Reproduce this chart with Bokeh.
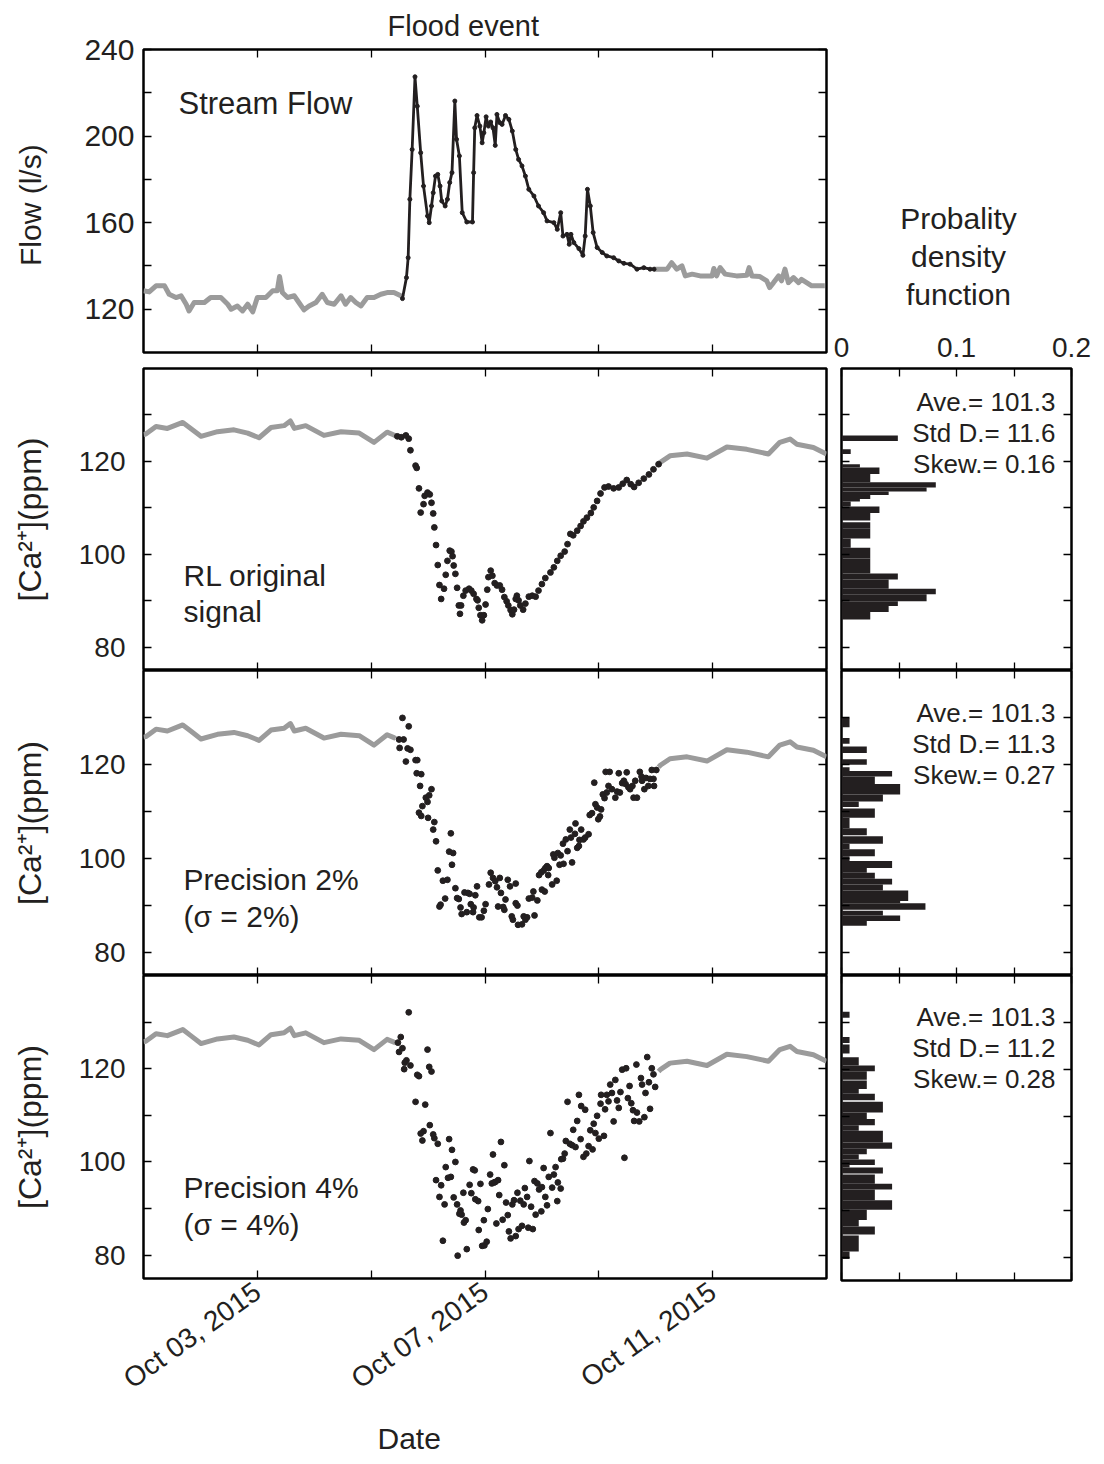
import numpy as np
import pandas as pd
from bokeh.plotting import figure
from bokeh.models import (Range1d, LinearAxis, DatetimeAxis, FixedTicker,
                          DatetimeTickFormatter, Label, Title)
from bokeh.layouts import row, column
from bokeh.embed import file_html
from bokeh.resources import INLINE

FONT = "Liberation Sans"
INK = "#231f20"
GRAY = "#9b9b9b"

# ---------------- data (day of October 2015, values) ----------------
flow_pre_day = [1.00,1.10,1.22,1.37,1.45,1.57,1.66,1.75,1.80,1.89,2.07,2.18,2.36,2.48,2.54,2.65,2.74,2.83,2.92,3.00,
                3.15,3.27,3.35,3.39,3.44,3.53,3.65,3.73,3.82,3.91,4.03,4.14,4.23,4.35,4.47,4.55,4.64,4.73,4.82,4.93,
                5.05,5.17,5.28,5.40,5.52,5.56]
flow_pre_val = [128.5,128.0,130.8,130.8,126.9,125.4,126.2,122.3,119.2,123.1,123.1,125.4,125.4,122.3,120.0,121.5,119.2,122.3,118.8,125.4,
                125.4,128.5,128.5,135.1,127.7,125.4,126.2,123.1,119.7,121.5,123.1,126.9,123.1,122.3,126.2,122.3,125.4,123.1,121.5,125.4,
                125.4,126.9,127.7,127.7,126.2,125.4]

flow_event_day = [5.55,5.62,5.65,5.68,5.72,5.77,5.81,5.87,5.92,5.99,6.02,6.06,6.09,6.13,6.17,6.21,6.24,6.30,6.34,6.38,
                  6.42,6.47,6.50,6.55,6.60,6.68,6.78,6.80,6.82,6.86,6.91,6.95,6.98,7.02,7.06,7.10,7.14,7.18,7.21,7.26,
                  7.30,7.36,7.42,7.48,7.54,7.59,7.65,7.71,7.77,7.86,7.94,8.03,8.09,8.21,8.27,8.33,8.37,8.44,8.48,8.51,
                  8.56,8.65,8.72,8.76,8.80,8.85,8.90,8.97,9.06,9.14,9.26,9.35,9.44,9.55,9.67,9.79,9.90,9.97]
flow_event_val = [124.9,134.6,143.8,170.8,193.8,227.4,213.8,192.3,176.9,163.1,160.0,167.7,173.8,181.5,182.3,176.9,170.0,167.7,170.8,178.5,
                  183.1,216.2,198.5,190.8,164.6,160.3,160.3,183.1,203.8,209.5,204.6,196.9,201.5,208.9,204.6,206.5,203.8,195.7,210.0,206.2,
                  205.4,209.5,207.7,202.3,193.8,189.2,186.2,181.5,175.4,172.3,167.7,164.6,160.8,160.0,156.9,164.6,153.8,154.6,150.0,154.6,
                  150.8,148.0,144.9,153.8,175.4,167.7,155.4,148.5,146.2,144.6,143.8,142.3,141.2,140.8,138.5,139.2,138.5,138.5]

flow_post_day = [9.97,10.05,10.20,10.28,10.37,10.46,10.52,10.64,10.78,10.99,11.02,11.07,11.13,11.22,11.42,11.60,11.64,11.69,11.83,11.95,
                 12.00,12.07,12.16,12.21,12.27,12.33,12.42,12.51,12.56,12.65,12.74,12.97]
flow_post_val = [138.5,138.5,138.5,141.5,138.5,140.0,135.4,136.2,135.4,135.4,138.8,135.4,139.2,136.2,135.4,135.7,139.2,135.4,135.1,133.1,
                 130.0,132.3,135.4,133.1,138.5,132.3,134.6,132.3,133.8,132.3,130.8,130.8]

ca_pre_day = [1.00,1.04,1.22,1.42,1.69,1.83,2.01,2.30,2.59,2.83,3.03,3.24,3.47,3.58,3.65,3.85,4.17,4.47,4.79,5.05,5.28,5.40,5.43]
ca_pre_val = [125.8,125.9,127.5,127.1,128.4,127.1,125.4,126.4,126.8,126.1,125.1,127.3,127.7,128.7,127.1,127.7,125.6,126.4,126.1,124.1,126.3,125.7,125.5]

ca_post_day = [10.05,10.08,10.25,10.55,10.90,11.25,11.60,11.98,12.18,12.36,12.48,12.77,13.00]
ca_post_val = [119.4,119.8,121.2,121.6,120.7,123.1,122.6,121.6,124.1,124.8,123.7,123.0,121.6]

rl_day = [5.46,5.53,5.61,5.66,5.69,5.78,5.80,5.84,5.87,5.92,5.94,5.99,6.03,6.06,6.09,6.11,6.14,6.17,6.20,6.23,
          6.28,6.31,6.34,6.38,6.41,6.43,6.45,6.48,6.51,6.54,6.56,6.58,6.62,6.66,6.72,6.76,6.80,6.85,6.87,6.89,
          6.92,6.95,6.98,7.01,7.04,7.06,7.10,7.13,7.17,7.21,7.26,7.30,7.34,7.38,7.41,7.45,7.48,7.51,7.54,7.56,
          7.59,7.62,7.67,7.71,7.77,7.83,7.89,7.94,8.00,8.06,8.15,8.21,8.27,8.33,8.40,8.45,8.50,8.55,8.62,8.68,
          8.73,8.79,8.86,8.91,8.97,9.03,9.10,9.17,9.26,9.35,9.42,9.49,9.56,9.62,9.70,9.79,9.88,9.96,10.05]
rl_val = [125.4,125.2,125.6,124.9,122.4,119.1,118.6,114.2,109.0,110.8,112.6,113.3,112.9,111.1,108.8,105.8,102.0,97.7,93.4,90.4,
          92.6,95.6,98.6,100.8,100.6,99.6,97.6,95.8,92.8,89.0,87.2,89.0,91.1,92.2,92.6,92.2,91.5,90.4,90.1,88.5,
          86.9,85.8,86.9,89.2,92.4,95.1,96.5,95.4,93.8,93.3,93.3,92.4,90.8,89.9,89.0,88.0,87.1,88.1,90.4,91.1,
          90.1,89.0,88.1,89.4,90.9,91.1,90.9,92.2,93.6,94.9,96.1,97.2,98.6,99.7,100.6,102.2,104.4,104.1,105.1,106.1,
          107.1,107.9,108.9,110.1,111.5,113.1,114.4,114.6,114.2,114.4,115.2,116.0,115.1,114.5,115.4,116.3,117.2,118.3,119.4]

p2_day = [5.49,5.57,5.55,5.66,5.50,5.61,5.64,5.69,5.78,5.81,5.80,5.88,5.86,5.96,6.02,6.06,5.99,5.90,5.84,5.88,
          6.00,6.11,6.09,6.14,6.40,6.37,6.44,6.42,6.17,6.26,6.34,6.48,6.51,6.54,6.64,6.70,6.73,6.86,6.83,6.22,
          6.20,6.30,6.57,6.59,6.68,6.75,6.79,6.80,6.90,6.94,6.98,7.01,7.07,7.10,7.14,7.18,7.21,7.26,7.28,7.36,
          7.40,7.44,7.54,7.23,7.32,7.34,7.47,7.49,7.54,7.57,7.58,7.65,7.68,7.71,7.74,7.77,7.83,7.87,7.92,7.85,
          7.95,7.99,8.03,8.06,8.09,8.11,8.12,8.00,8.05,8.18,8.26,8.20,8.22,8.28,8.33,8.31,8.38,8.37,8.42,8.45,
          8.49,8.53,8.51,8.58,8.59,8.62,8.65,8.66,8.69,8.73,8.76,8.82,8.84,8.88,8.94,8.97,8.99,9.02,9.04,8.92,
          9.07,9.10,9.14,9.12,9.19,9.17,9.23,9.29,9.32,9.35,9.37,9.41,9.44,9.49,9.47,9.52,9.55,9.59,9.61,9.64,
          9.67,9.72,9.75,9.76,9.80,9.83,9.87,9.90,9.93,9.96,9.97,10.01]
p2_val = [125.3,125.3,129.9,128.1,123.5,120.6,123.4,123.1,120.9,120.9,118.1,117.9,115.4,112.9,113.4,114.7,112.0,111.1,109.7,109.0,
          108.6,107.7,106.1,103.6,105.3,101.4,101.1,98.6,97.4,95.2,95.4,93.6,91.5,91.3,92.7,92.6,92.4,94.0,92.1,90.1,
          89.7,91.4,89.5,88.1,88.5,90.2,88.5,89.5,87.4,87.4,88.8,90.2,94.4,96.9,95.8,95.1,93.8,95.8,92.6,91.2,
          95.4,94.0,94.6,89.7,89.6,89.0,87.6,86.9,90.4,89.9,85.8,85.9,87.6,86.9,87.4,91.4,91.6,87.8,91.0,92.9,
          96.4,97.0,97.4,97.9,98.3,96.4,97.9,93.3,92.9,94.4,95.2,100.8,100.1,101.1,100.6,98.6,98.8,103.1,104.0,101.5,
          106.1,99.1,104.4,105.2,107.4,102.2,102.6,103.9,106.1,104.0,104.4,105.1,109.2,109.6,111.5,110.8,108.3,108.9,110.4,116.1,
          113.6,112.8,114.0,118.4,118.4,115.4,114.7,112.9,114.2,118.1,114.0,116.0,116.5,118.3,115.8,115.1,114.7,115.4,112.9,116.5,
          112.9,118.4,117.4,116.5,114.7,117.1,115.4,116.9,118.8,116.9,115.4,118.8]

p4_day = [5.66,5.52,5.47,5.55,5.49,5.62,5.59,5.69,5.58,5.81,5.84,5.99,6.02,6.06,5.78,5.95,6.03,5.92,5.87,5.90,
          6.09,6.11,6.17,6.37,6.42,6.48,6.31,6.35,6.40,6.14,6.23,6.20,6.29,6.45,6.51,6.57,6.59,6.55,6.66,6.63,
          6.62,6.73,6.76,6.79,6.82,6.83,6.88,6.92,6.89,6.98,6.95,6.99,7.03,7.05,7.09,7.12,7.16,7.18,7.23,7.14,
          7.28,7.34,7.25,7.20,7.31,7.40,7.37,7.42,7.45,7.54,7.59,7.65,7.76,7.84,7.48,7.51,7.57,7.62,7.68,7.70,
          7.74,7.81,7.89,7.99,7.78,7.87,7.92,7.95,8.00,8.03,8.06,8.09,8.12,8.15,8.18,8.21,8.24,8.27,8.28,8.33,
          8.34,8.37,8.40,8.42,8.45,8.49,8.53,8.55,8.59,8.62,8.65,8.68,8.69,8.73,8.76,8.78,8.82,8.85,8.89,8.91,
          8.94,8.97,9.00,9.03,9.04,9.09,9.11,9.14,9.17,9.20,9.23,9.26,9.29,9.32,9.35,9.38,9.41,9.45,9.48,9.51,
          9.54,9.57,9.60,9.62,9.66,9.67,9.71,9.74,9.76,9.80,9.82,9.85,9.88,9.90,9.93,9.96,9.99,6.26,6.52,6.68]
p4_val = [132.1,126.8,125.6,124.4,123.6,121.8,121.3,120.7,119.9,118.7,118.4,124.1,120.4,119.4,112.9,112.3,107.9,106.6,106.1,104.6,
          105.9,105.1,103.9,104.9,102.6,100.0,98.9,96.6,96.8,96.1,95.0,92.5,90.9,92.4,90.9,89.6,88.7,88.9,87.5,87.0,
          93.4,95.1,93.3,98.4,98.2,92.0,91.6,95.3,85.4,87.5,82.0,82.1,82.9,89.9,97.3,95.4,95.6,95.7,96.1,101.6,
          104.3,99.3,92.9,86.8,87.6,88.6,91.3,85.1,83.6,84.1,85.6,86.3,85.9,85.6,90.9,91.8,93.4,91.7,90.9,94.4,
          92.5,90.4,88.7,89.4,100.2,95.9,95.4,94.1,94.6,98.7,92.5,90.7,96.8,106.2,94.5,97.3,98.9,91.6,95.6,94.3,
          100.6,100.7,101.8,104.5,112.9,103.9,103.6,106.9,103.2,108.8,114.4,104.9,112.0,101.1,111.2,101.8,103.4,106.8,102.7,108.2,
          106.2,109.9,105.0,112.5,114.4,105.6,111.3,114.4,113.0,116.6,114.8,108.7,117.6,113.2,111.6,115.0,119.8,100.9,120.1,113.7,
          116.3,112.6,111.1,108.8,120.9,110.6,108.7,118.0,116.6,109.6,114.8,122.5,117.1,111.4,120.1,118.8,116.1,83.1,79.9,81.3]

# histograms: bin bottom, bin top (ppm) and probability
h1_lo = [124.4,121.6,118.7,117.3,115.5,114.4,113.5,112.8,111.9,111.4,110.3,108.9,107.3,105.5,103.4,101.4,99.1,95.9,94.6,92.6,91.4,89.9,88.9,87.6,86.0]
h1_hi = [125.6,122.6,119.4,118.7,117.3,115.5,114.4,113.5,112.8,111.9,111.4,110.3,108.9,106.9,105.5,103.4,101.4,99.1,95.9,94.6,92.6,91.4,89.9,88.9,87.6]
h1_p = [0.049,0.008,0.016,0.033,0.025,0.082,0.074,0.041,0.025,0.016,0.008,0.033,0.025,0.025,0.025,0.008,0.025,0.025,0.049,0.041,0.082,0.074,0.049,0.041,0.025]

h2_lo = [127.9,124.4,122.4,119.9,118.6,117.4,115.8,113.6,112.1,110.9,108.6,106.4,104.9,103.1,101.9,100.4,99.4,97.9,96.9,95.6,94.4,93.1,90.9,90.4,89.0,87.8,86.6,85.6]
h2_hi = [129.9,125.6,123.8,121.1,119.4,118.6,117.4,115.8,113.6,112.1,110.6,108.6,106.4,104.7,103.1,101.9,100.4,99.4,97.9,96.9,95.6,94.4,93.1,90.9,90.4,88.8,87.8,86.6]
h2_p = [0.007,0.007,0.022,0.022,0.007,0.044,0.029,0.051,0.036,0.015,0.029,0.007,0.022,0.036,0.007,0.029,0.007,0.044,0.022,0.029,0.044,0.036,0.058,0.051,0.073,0.036,0.051,0.022]

h3_lo = [131.0,125.6,123.4,120.8,119.6,117.8,115.8,114.8,113.4,110.8,109.4,108.1,106.9,105.6,104.4,103.1,101.9,100.8,99.6,99.1,97.8,95.6,94.4,92.1,90.1,87.9,86.5,84.8,81.2,79.6]
h3_hi = [132.3,126.9,125.3,122.6,120.8,119.6,117.6,115.8,114.8,113.1,110.8,109.4,108.1,106.9,105.6,104.4,103.1,101.9,100.8,99.6,99.1,97.6,95.6,94.4,92.1,90.1,87.9,86.5,84.6,81.2]
h3_p = [0.007,0.007,0.007,0.015,0.029,0.022,0.022,0.015,0.029,0.036,0.022,0.029,0.015,0.036,0.036,0.044,0.022,0.015,0.029,0.007,0.036,0.029,0.044,0.029,0.044,0.022,0.015,0.029,0.015,0.007]

stats = [("101.3", "11.6", "0.16"), ("101.3", "11.3", "0.27"), ("101.3", "11.2", "0.28")]
panel_labels = [("RL original", "signal"), ("Precision 2%", "(\u03c3 = 2%)"), ("Precision 4%", "(\u03c3 = 4%)")]
pdf_title = ["Probality", "density", "function"]
date_ticks = [3, 7, 11]
date_minor = [5, 9]

# ---------------- helpers ----------------
BASE = pd.Timestamp("2015-09-30")


def to_time(days):
    return (BASE + pd.to_timedelta(np.asarray(days, dtype=float), unit="D")).to_numpy()


def ms(d):
    return (BASE + pd.Timedelta(days=d)).value / 1e6


def make_fig(w, h, xr, yr, bl, br, bt, bb):
    p = figure(width=w, height=h, x_range=xr, y_range=yr, x_axis_type=None, y_axis_type=None,
               toolbar_location=None, output_backend="svg",
               min_border_left=bl, min_border_right=br, min_border_top=bt, min_border_bottom=bb)
    p.outline_line_color = "black"
    p.outline_line_width = 2.5
    p.outline_line_alpha = 1.0
    p.border_fill_color = "white"
    p.background_fill_color = "white"
    return p


def blank_fig(w, h, bl, br):
    p = figure(width=w, height=h, x_range=Range1d(0, 1), y_range=Range1d(0, 1),
               x_axis_type=None, y_axis_type=None, toolbar_location=None, output_backend="svg",
               min_border_left=bl, min_border_right=br, min_border_top=0, min_border_bottom=0)
    p.outline_line_color = None
    p.border_fill_color = "white"
    p.background_fill_color = "white"
    return p


def add_axis(p, side, ticker, dt=False, show=False, size="28px", standoff=10, orient="horizontal",
             formatter=None, label=None, label_standoff=10, label_size="29px"):
    ax = DatetimeAxis(ticker=ticker) if dt else LinearAxis(ticker=ticker)
    if formatter is not None:
        ax.formatter = formatter
    ax.axis_line_color = None
    ax.major_tick_in = 8
    ax.major_tick_out = 0
    ax.minor_tick_in = 8
    ax.minor_tick_out = 0
    ax.major_tick_line_color = "black"
    ax.minor_tick_line_color = "black"
    ax.major_tick_line_width = 1.3
    ax.minor_tick_line_width = 1.3
    if show:
        ax.major_label_text_font = FONT
        ax.major_label_text_font_size = size
        ax.major_label_text_color = INK
        ax.major_label_standoff = standoff
        ax.major_label_orientation = orient
    else:
        ax.major_label_text_font_size = "0px"
        ax.major_label_text_color = None
        ax.major_label_standoff = 0
    if label is not None:
        ax.axis_label = label
        ax.axis_label_text_font = FONT
        ax.axis_label_text_font_size = label_size
        ax.axis_label_text_font_style = "normal"
        ax.axis_label_text_color = INK
        ax.axis_label_standoff = label_standoff
    p.add_layout(ax, side)
    return ax


def text(p, x, y, s, size="30px", align="left"):
    p.add_layout(Label(x=x, y=y, x_units="screen", y_units="screen", text=s, text_font=FONT,
                       text_font_size=size, text_color=INK, text_align=align,
                       text_baseline="middle"))


def title(p, s, side, align="center", offset=0, standoff=10, size="30px", valign="bottom"):
    p.add_layout(Title(text=s, align=align, offset=offset, standoff=standoff, text_font=FONT,
                       text_font_size=size, text_font_style="normal", text_color=INK,
                       vertical_align=valign), side)


# ---------------- ranges / tickers ----------------
x_range = Range1d(start=pd.Timestamp("2015-10-01"), end=pd.Timestamp("2015-10-13"))
ca_range = Range1d(75, 140)
flow_range = Range1d(100, 240)
hx_range = Range1d(0, 0.2)


def date_ticker():
    return FixedTicker(ticks=[ms(d) for d in date_ticks], minor_ticks=[ms(d) for d in date_minor])


def ca_ticker():
    return FixedTicker(ticks=[80, 100, 120], minor_ticks=[90, 110, 130])


def hx_ticker():
    return FixedTicker(ticks=[0, 0.1, 0.2], minor_ticks=[0.05, 0.15])


fmt = "%b %d, %Y"
date_fmt = DatetimeTickFormatter(microseconds=fmt, milliseconds=fmt, seconds=fmt, minsec=fmt, minutes=fmt,
                                 hourmin=fmt, hours=fmt, days=fmt, months=fmt, years=fmt)

# ---------------- flow panel ----------------
flow = make_fig(830, 360, x_range, flow_range, 143, 4, 49, 8)
add_axis(flow, "left", FixedTicker(ticks=[120, 160, 200, 240], minor_ticks=[140, 180, 220]),
         show=True, size="30px", standoff=9, label="Flow  (l/s)", label_standoff=34, label_size="30px")
add_axis(flow, "right", FixedTicker(ticks=[120, 160, 200, 240], minor_ticks=[140, 180, 220]))
add_axis(flow, "above", date_ticker(), dt=True)
add_axis(flow, "below", date_ticker(), dt=True)
title(flow, "Flood event", "above", align="left", offset=244, standoff=12, size="29px", valign="top")
flow.line(to_time(flow_pre_day), flow_pre_val, color=GRAY, line_width=5, line_join="round")
flow.line(to_time(flow_post_day), flow_post_val, color=GRAY, line_width=5, line_join="round")
flow.line(to_time(flow_event_day), flow_event_val, color=INK, line_width=2.8, line_join="round")
flow.scatter(to_time(flow_event_day), flow_event_val, size=4, color=INK)
text(flow, 35, 249, "Stream Flow", size="31px")

# ---------------- calcium panels ----------------
ca_figs = []
dots = [(rl_day, rl_val), (p2_day, p2_val), (p4_day, p4_val)]
specs = [(310, 8, 0), (305, 0, 0), (489, 0, 184)]
label_y = [(95, 59), (96, 59), (91, 54)]
for i in range(3):
    h, bt, bb = specs[i]
    p = make_fig(830, h, x_range, ca_range, 143, 4, bt, bb)
    add_axis(p, "left", ca_ticker(), show=True, size="28px", standoff=18,
             label="[Ca\u00b2\u207a](ppm)", label_standoff=28, label_size="32px")
    add_axis(p, "right", ca_ticker())
    add_axis(p, "above", date_ticker(), dt=True)
    if i == 2:
        add_axis(p, "below", date_ticker(), dt=True, show=True, size="28px", standoff=10,
                 orient=0.62, formatter=date_fmt)
        title(p, "Date", "below", align="left", offset=234, standoff=20, size="30px")
    else:
        add_axis(p, "below", date_ticker(), dt=True)
    p.line(to_time(ca_pre_day), ca_pre_val, color=GRAY, line_width=5, line_join="round")
    p.line(to_time(ca_post_day), ca_post_val, color=GRAY, line_width=5, line_join="round")
    d, v = dots[i]
    p.scatter(to_time(d), v, size=5.8, color=INK)
    text(p, 40, label_y[i][0], panel_labels[i][0], size="30px")
    text(p, 40, label_y[i][1], panel_labels[i][1], size="30px")
    ca_figs.append(p)

# ---------------- header above the histograms ----------------
head_right = blank_fig(274, 320, 11, 33)
for line_text, yy in zip(pdf_title, [102, 64, 26]):
    text(head_right, 117, yy, line_text, size="30px", align="center")

# ---------------- histogram panels ----------------
hists = [(h1_lo, h1_hi, h1_p), (h2_lo, h2_hi, h2_p), (h3_lo, h3_hi, h3_p)]
hspecs = [(350, 48, 0), (305, 0, 0), (310, 0, 5)]
stat_y = [(269, 238, 207), (263, 232, 201), (264, 233, 202)]
h_figs = []
for i in range(3):
    h, bt, bb = hspecs[i]
    p = make_fig(274, h, hx_range, ca_range, 11, 33, bt, bb)
    add_axis(p, "left", ca_ticker())
    add_axis(p, "right", ca_ticker())
    if i == 0:
        add_axis(p, "above", hx_ticker(), show=True, size="28px", standoff=12)
    else:
        add_axis(p, "above", hx_ticker())
    add_axis(p, "below", hx_ticker())
    lo, hi, pr = hists[i]
    p.quad(left=0, right=pr, bottom=lo, top=hi, color=INK, line_color=None)
    a, s, k = stats[i]
    text(p, 214, stat_y[i][0], "Ave.= " + a, size="26px", align="right")
    text(p, 214, stat_y[i][1], "Std D.= " + s, size="26px", align="right")
    text(p, 214, stat_y[i][2], "Skew.= " + k, size="26px", align="right")
    h_figs.append(p)

layout = row(column(flow, *ca_figs), column(head_right, *h_figs))
open("out.html", "w").write(file_html(layout, INLINE))
